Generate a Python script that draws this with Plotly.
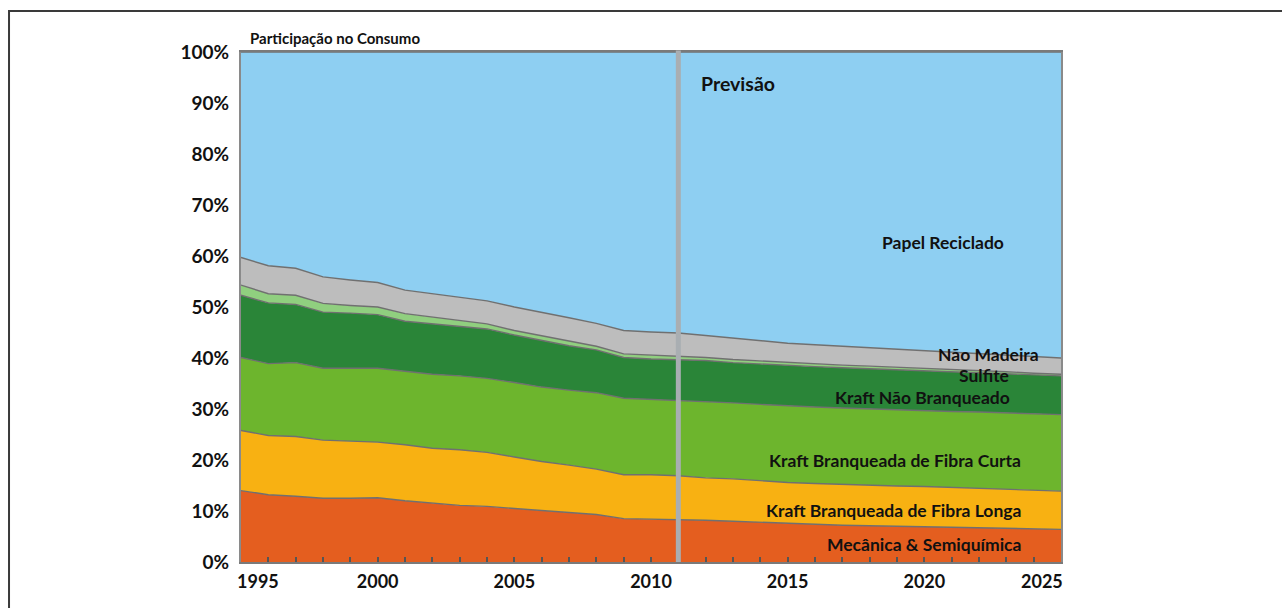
import plotly.graph_objects as go

years = list(range(1995, 2026))

mecanica = [14.0, 13.2, 12.9, 12.5, 12.5, 12.6, 12.0, 11.5, 11.1, 10.9, 10.5, 10.1, 9.8, 9.3, 8.5, 8.4,
            8.4, 8.2, 8.0, 7.8, 7.5, 7.3, 7.2, 7.1, 7.0, 6.9, 6.8, 6.7, 6.6, 6.5, 6.4]
fibra_longa = [11.8, 11.6, 11.7, 11.4, 11.2, 10.9, 11.0, 10.8, 10.9, 10.6, 10.1, 9.6, 9.2, 8.9, 8.6, 8.7,
               8.5, 8.3, 8.3, 8.1, 8.1, 8.1, 8.0, 7.9, 7.9, 7.9, 7.8, 7.7, 7.6, 7.5, 7.5]
fibra_curta = [14.3, 14.1, 14.5, 14.1, 14.3, 14.5, 14.4, 14.5, 14.5, 14.5, 14.6, 14.6, 14.7, 15.0, 15.0, 14.8,
               14.8, 14.9, 14.9, 15.0, 15.0, 15.0, 15.0, 15.0, 14.9, 14.9, 14.9, 15.0, 15.0, 15.0, 15.0]
nao_branqueado = [12.2, 11.9, 11.4, 11.0, 10.8, 10.5, 9.8, 9.9, 9.7, 9.7, 9.3, 9.1, 8.7, 8.4, 8.0, 7.9,
                  8.0, 8.1, 7.9, 7.9, 7.9, 7.9, 7.9, 7.9, 7.9, 7.8, 7.8, 7.7, 7.7, 7.7, 7.6]
sulfite = [2.0, 1.8, 1.8, 1.7, 1.5, 1.5, 1.5, 1.3, 1.2, 1.0, 0.9, 1.0, 0.9, 0.7, 0.7, 0.8,
           0.7, 0.6, 0.6, 0.6, 0.6, 0.6, 0.5, 0.5, 0.5, 0.4, 0.4, 0.4, 0.4, 0.3, 0.3]
nao_madeira = [5.4, 5.5, 5.3, 5.2, 5.0, 4.8, 4.6, 4.6, 4.6, 4.5, 4.6, 4.6, 4.6, 4.5, 4.6, 4.5,
               4.5, 4.3, 4.2, 4.0, 3.8, 3.7, 3.7, 3.6, 3.5, 3.5, 3.4, 3.4, 3.3, 3.3, 3.2]
reciclado = [40.3, 41.9, 42.4, 44.1, 44.7, 45.2, 46.7, 47.4, 48.0, 48.8, 50.0, 51.0, 52.1, 53.2, 54.6, 54.9,
             55.1, 55.6, 56.1, 56.6, 57.1, 57.4, 57.7, 58.0, 58.3, 58.6, 58.9, 59.1, 59.4, 59.7, 60.0]

series = [
    ("Mecânica & Semiquímica", mecanica, "#e45e1f"),
    ("Kraft Branqueada de Fibra Longa", fibra_longa, "#f8b112"),
    ("Kraft Branqueada de Fibra Curta", fibra_curta, "#6db52d"),
    ("Kraft Não Branqueado", nao_branqueado, "#2a8538"),
    ("Sulfite", sulfite, "#90cf7f"),
    ("Não Madeira", nao_madeira, "#bdbdbd"),
    ("Papel Reciclado", reciclado, "#8ecff2"),
]

forecast_year = 2011
y_ticks = list(range(0, 101, 10))
y_tick_text = [f"{v}%" for v in y_ticks]

FONT = "Lato"

fig = go.Figure()
for name, vals, col in series:
    fig.add_trace(go.Scatter(
        x=years, y=vals, name=name, mode="lines", stackgroup="one",
        fillcolor=col, line=dict(color="#707070", width=1.4), showlegend=False,
    ))

# series labels (x in years, y in %)
labels = [
    ("Papel Reciclado", 2020.7, 62.7, "center"),
    ("Não Madeira", 2024.28, 40.6, "right"),
    ("Sulfite", 2022.17, 36.6, "center"),
    ("Kraft Não Branqueado", 2019.95, 32.3, "center"),
    ("Kraft Branqueada de Fibra Curta", 2023.6, 19.9, "right"),
    ("Kraft Branqueada de Fibra Longa", 2023.6, 10.1, "right"),
    ("Mecânica & Semiquímica", 2023.6, 3.4, "right"),
]
annotations = []
for txt, xv, yv, anc in labels:
    annotations.append(dict(x=xv, y=yv, xref="x", yref="y", text=txt, showarrow=False,
                            xanchor=anc, yanchor="middle",
                            font=dict(family=FONT, size=17.5, color="#111111", weight="bold")))

annotations.append(dict(x=2011.75, y=93.9, xref="x", yref="y", text="Previsão", showarrow=False,
                        xanchor="left", yanchor="middle",
                        font=dict(family=FONT, size=19.5, color="#111111", weight="bold")))
annotations.append(dict(x=0.008, y=1.028, xref="paper", yref="paper", text="Participação no Consumo",
                        showarrow=False, xanchor="left", yanchor="middle",
                        font=dict(family=FONT, size=15, color="#111111", weight="bold")))
# end year labels, kept inside the plot width as in the original
annotations.append(dict(x=1995, y=0, xref="x", yref="paper", text="1995", showarrow=False,
                        xanchor="left", yanchor="top", xshift=-6, yshift=-6,
                        font=dict(family=FONT, size=18, color="#111111", weight="bold")))
annotations.append(dict(x=2025, y=0, xref="x", yref="paper", text="2025", showarrow=False,
                        xanchor="right", yanchor="top", xshift=4, yshift=-6,
                        font=dict(family=FONT, size=18, color="#111111", weight="bold")))

tick_text = [str(y) if (y % 5 == 0 and 1995 < y < 2025) else "" for y in years]

shapes = [
    dict(type="line", xref="x", yref="paper", x0=forecast_year, x1=forecast_year, y0=0, y1=1.003,
         line=dict(color="#a9aeb2", width=5), layer="above"),
    dict(type="path", xref="paper", yref="paper",
         path="M -0.2829,-0.2 L -0.2829,1.0804 L 1.4,1.0804",
         line=dict(color="#3a3a3a", width=2)),
]

fig.update_layout(
    width=1282, height=608,
    margin=dict(l=241, r=221, t=52, b=46),
    paper_bgcolor="white", plot_bgcolor="white",
    font=dict(family=FONT, color="#111111"),
    annotations=annotations, shapes=shapes,
    xaxis=dict(range=[1995, 2025], tickmode="array", tickvals=years, ticktext=tick_text,
               ticks="inside", ticklen=5, tickwidth=1.5, tickcolor="#555555",
               showline=True, mirror=True, linecolor="#7a7a7a", linewidth=2,
               showgrid=False, zeroline=False, ticklabelstandoff=2,
               tickfont=dict(family=FONT, size=18, color="#111111", weight="bold")),
    yaxis=dict(range=[0, 100], tickmode="array", tickvals=y_ticks, ticktext=y_tick_text,
               ticks="", showline=True, mirror=True, linecolor="#8a8a8a", linewidth=2,
               showgrid=False, zeroline=False, ticklabelstandoff=6,
               tickfont=dict(family=FONT, size=19, color="#111111", weight="bold")),
)

fig.write_html("out.html")
